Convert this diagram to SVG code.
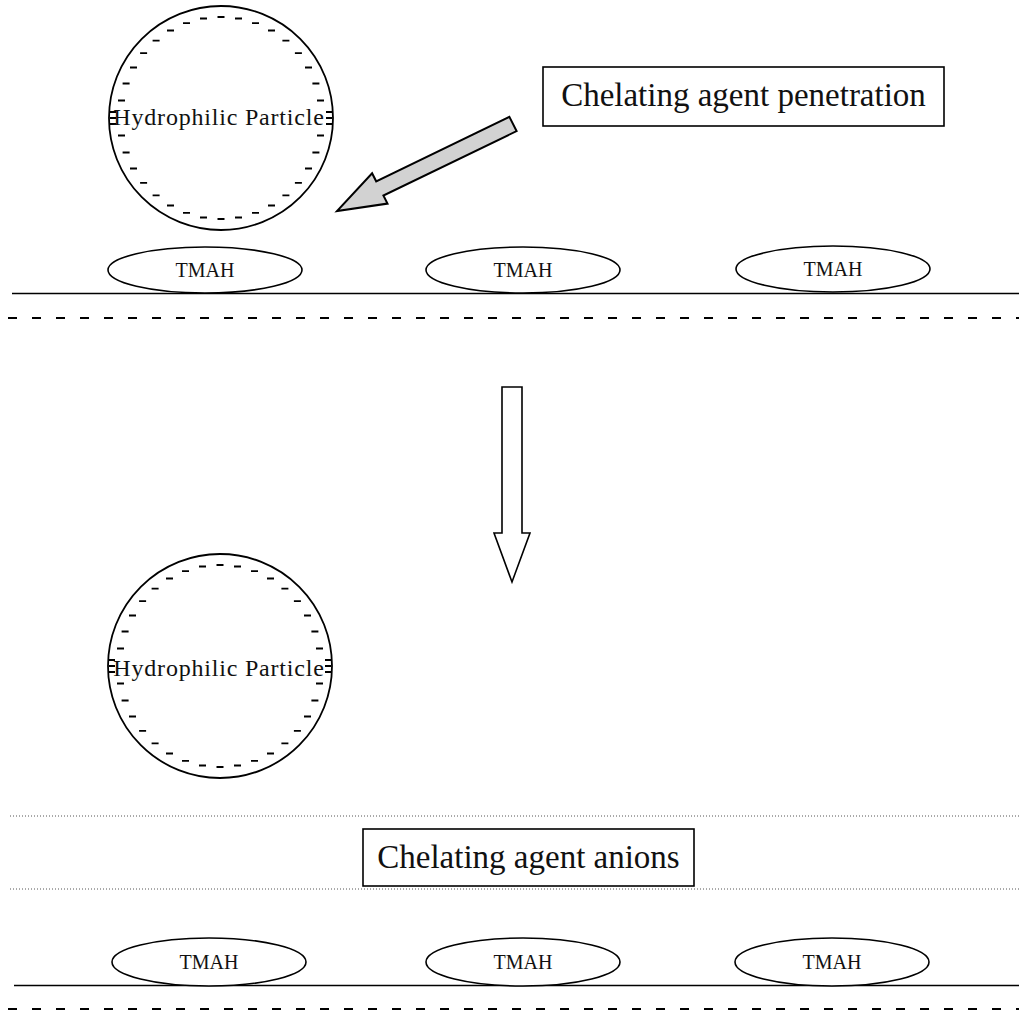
<svg xmlns="http://www.w3.org/2000/svg" xmlns:xlink="http://www.w3.org/1999/xlink" width="1019" height="1013" viewBox="0 0 1019 1013">
<style>
.bg{fill:#ffffff}
.outline{fill:#ffffff;stroke:#000;stroke-width:1.6}
.ring{fill:none;stroke:#000;stroke-width:1.8}
.tick{fill:none;stroke:#000;stroke-width:1.8}
.lbl{font-family:"Liberation Serif","Times New Roman",serif;fill:#111;text-anchor:middle}
.particle{font-size:24px;letter-spacing:0.8px}
.tmah{font-size:20px}
.boxlbl{font-size:33px}
.solid{stroke:#000;stroke-width:1.6;fill:none}
.dashed{stroke:#000;stroke-width:2;stroke-dasharray:9 15;fill:none}
.dotted{stroke:#555;stroke-width:1;stroke-dasharray:1 2;fill:none}
.gray{fill:#d2d2d2;stroke:#000;stroke-width:2;stroke-linejoin:miter}
.hollow{fill:#fff;stroke:#000;stroke-width:1.6}
</style>
<defs>
<g id="particleShape">
<circle class="ring" cx="0" cy="0" r="112"/>
<path class="tick" d="M96 17.5h7M91.4 34.5h7M84 50.5h7M73.9 64.9h7M61.4 77.4h7M47 87.5h7M31 94.9h7M14 99.5h7M-3.5 101h7M-21 99.5h7M-38 94.9h7M-54 87.5h7M-68.4 77.4h7M-80.9 64.9h7M-91 50.5h7M-98.4 34.5h7M-103 17.5h7M-103 -17.5h7M-98.4 -34.5h7M-91 -50.5h7M-80.9 -64.9h7M-68.4 -77.4h7M-54 -87.5h7M-38 -94.9h7M-21 -99.5h7M-3.5 -101h7M14 -99.5h7M31 -94.9h7M47 -87.5h7M61.4 -77.4h7M73.9 -64.9h7M84 -50.5h7M91.4 -34.5h7M96 -17.5h7M-111 -6h6M-111 0h6M-111 6h6M105 -6h6M105 0h6M105 6h6"/>
</g>
</defs>
<rect class="bg" x="0" y="0" width="1019" height="1013"/>

<g id="connectors">
<line class="solid" x1="12" y1="293.5" x2="1019" y2="293.5"/>
<line class="dashed" x1="8" y1="318" x2="1019" y2="318"/>
<line class="dotted" x1="10" y1="816" x2="1019" y2="816"/>
<line class="dotted" x1="10" y1="889" x2="1019" y2="889"/>
<line class="solid" x1="14" y1="985.5" x2="1019" y2="985.5"/>
<line class="dashed" x1="8" y1="1009" x2="1019" y2="1009"/>
<polygon id="penetration-arrow" class="gray" points="509.4,116.9 516.6,131.1 383.4,195.5 387.5,203.6 337,211 372.1,173.2 376.2,181.3"/>
<polygon id="step-arrow" class="hollow" points="502,387 522,387 522,533 530,533 512,582 494,533 502,533"/>
</g>

<g id="particle-top">
<use xlink:href="#particleShape" href="#particleShape" x="221" y="118"/>
<text class="lbl particle" x="219" y="125">Hydrophilic Particle</text>
</g>

<g id="penetration-box">
<rect class="outline" x="543" y="67" width="401" height="59"/>
<text class="lbl boxlbl" x="743.5" y="106">Chelating agent penetration</text>
</g>

<g id="tmah-top-1">
<ellipse class="outline" cx="205" cy="270" rx="97" ry="23"/>
<text class="lbl tmah" x="205" y="277">TMAH</text>
</g>
<g id="tmah-top-2">
<ellipse class="outline" cx="523" cy="270" rx="97" ry="23"/>
<text class="lbl tmah" x="523" y="277">TMAH</text>
</g>
<g id="tmah-top-3">
<ellipse class="outline" cx="833" cy="269" rx="97" ry="23"/>
<text class="lbl tmah" x="833" y="276">TMAH</text>
</g>

<g id="particle-bottom">
<use xlink:href="#particleShape" href="#particleShape" x="220" y="666"/>
<text class="lbl particle" x="219" y="676">Hydrophilic Particle</text>
</g>

<g id="anions-box">
<rect class="outline" x="363" y="829" width="331" height="57"/>
<text class="lbl boxlbl" x="528.5" y="868">Chelating agent anions</text>
</g>

<g id="tmah-bottom-1">
<ellipse class="outline" cx="209" cy="962" rx="97" ry="24"/>
<text class="lbl tmah" x="209" y="969">TMAH</text>
</g>
<g id="tmah-bottom-2">
<ellipse class="outline" cx="523" cy="962" rx="97" ry="24"/>
<text class="lbl tmah" x="523" y="969">TMAH</text>
</g>
<g id="tmah-bottom-3">
<ellipse class="outline" cx="832" cy="962" rx="97" ry="24"/>
<text class="lbl tmah" x="832" y="969">TMAH</text>
</g>
</svg>
